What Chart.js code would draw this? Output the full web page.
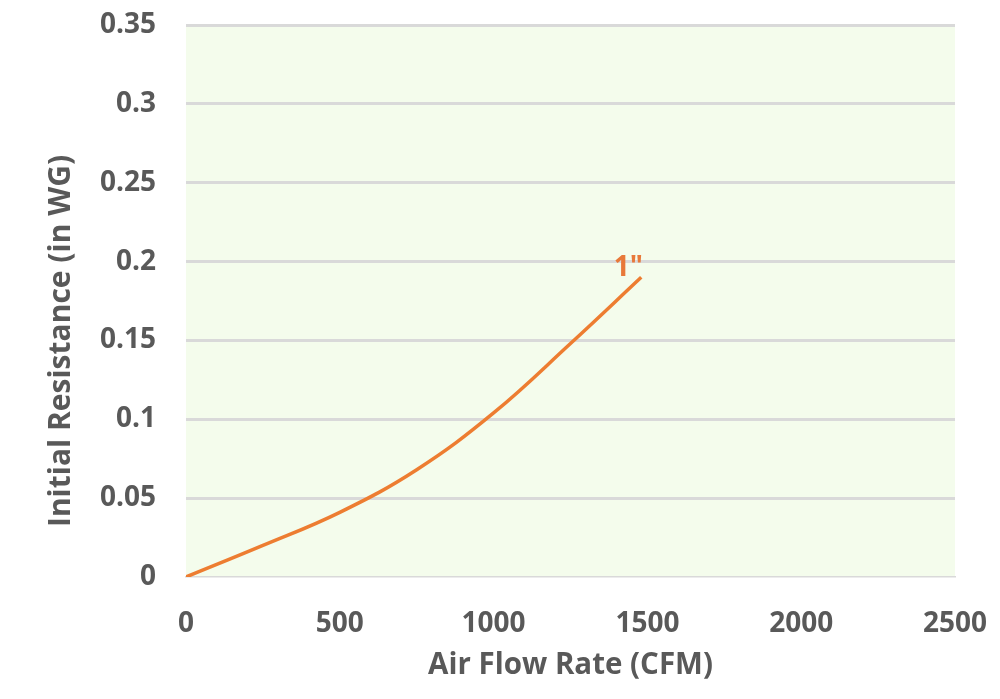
<!DOCTYPE html>
<html lang="en">
<head>
    <meta charset="utf-8">
    <title>Initial Resistance vs Air Flow Rate</title>
    <script src="https://cdn.jsdelivr.net/npm/chart.js"></script>
    <style>
        html, body { margin: 0; padding: 0; background: #fff; }
        #wrap { width: 1000px; height: 699px; }
    </style>
</head>
<body>
    <div id="wrap"><canvas id="resistanceChart"></canvas></div>

    <script>
        // values
        const flowRates = [0, 250, 500, 750, 1000, 1250, 1480];
        const resistance = [0, 0.02, 0.041, 0.068, 0.104, 0.148, 0.19];
        const seriesLabel = '1"';
        const yTicks = [0, 0.05, 0.1, 0.15, 0.2, 0.25, 0.3, 0.35];
        const yTitle = 'Initial Resistance (in WG)';

        const points = flowRates.map((x, i) => ({ x: x, y: resistance[i] }));

        // light green plot background
        const plotBg = {
            id: 'plotBg',
            beforeDraw(chart) {
                const { ctx, chartArea: a } = chart;
                ctx.save();
                ctx.fillStyle = '#f4fcec';
                ctx.fillRect(a.left, a.top, a.right - a.left, a.bottom - a.top);
                ctx.restore();
            }
        };

        // y axis title sits a bit below the centre of the axis in the original
        const yTitlePlugin = {
            id: 'yTitlePlugin',
            afterDraw(chart) {
                const ctx = chart.ctx;
                ctx.save();
                ctx.translate(61, 341);
                ctx.rotate(-Math.PI / 2);
                ctx.font = 'bold 30px "Open Sans"';
                ctx.fillStyle = '#595959';
                ctx.textAlign = 'center';
                ctx.textBaseline = 'middle';
                ctx.fillText(yTitle, 0, 0);
                ctx.restore();
            }
        };

        // series label next to the last point
        const endLabel = {
            id: 'endLabel',
            afterDatasetsDraw(chart) {
                const meta = chart.getDatasetMeta(0);
                const last = meta.data[meta.data.length - 1];
                const ctx = chart.ctx;
                ctx.save();
                ctx.font = 'bold 28px "Open Sans"';
                ctx.fillStyle = '#e8793a';
                ctx.textAlign = 'center';
                ctx.textBaseline = 'middle';
                ctx.fillText(seriesLabel, last.x - 13, last.y - 9);
                ctx.restore();
            }
        };

        new Chart(document.getElementById('resistanceChart'), {
            type: 'scatter',
            data: {
                datasets: [{
                    label: seriesLabel,
                    data: points,
                    showLine: true,
                    borderColor: '#ed7d31',
                    borderWidth: 3.5,
                    pointRadius: 0,
                    tension: 0.4
                }]
            },
            options: {
                responsive: true,
                maintainAspectRatio: false,
                animation: false,
                layout: { padding: { top: 25, right: 45, left: 0, bottom: 12 } },
                plugins: {
                    legend: { display: false },
                    tooltip: { enabled: false }
                },
                scales: {
                    x: {
                        type: 'linear',
                        min: 0,
                        max: 2500,
                        ticks: {
                            stepSize: 500,
                            padding: 22,
                            color: '#595959',
                            font: { family: 'Open Sans', size: 28, weight: 'bold' },
                            callback: v => String(v)
                        },
                        grid: { display: false },
                        border: { display: true, color: '#d9d9d9', width: 1.5 },
                        title: {
                            display: true,
                            text: 'Air Flow Rate (CFM)',
                            color: '#595959',
                            padding: { top: 4 },
                            font: { family: 'Open Sans', size: 29.5, weight: 'bold' }
                        },
                        afterFit(scale) {
                            scale.height = 110;
                            scale.paddingLeft = 0;
                            scale.paddingRight = 0;
                        }
                    },
                    y: {
                        min: 0,
                        max: 0.35,
                        afterBuildTicks(scale) {
                            scale.ticks = yTicks.map(v => ({ value: v }));
                        },
                        ticks: {
                            padding: 30,
                            color: '#595959',
                            font: { family: 'Open Sans', size: 28, weight: 'bold' },
                            callback: v => String(+v.toFixed(2))
                        },
                        grid: {
                            color: ctx => ctx.tick && ctx.tick.value === 0 ? 'rgba(0,0,0,0)' : '#d9d9d9',
                            lineWidth: 3,
                            drawTicks: false
                        },
                        border: { display: false },
                        title: { display: false },
                        afterFit(scale) {
                            scale.width = 186;
                            scale.paddingTop = 0;
                            scale.paddingBottom = 0;
                        }
                    }
                }
            },
            plugins: [plotBg, yTitlePlugin, endLabel]
        });
    </script>
</body>
</html>
